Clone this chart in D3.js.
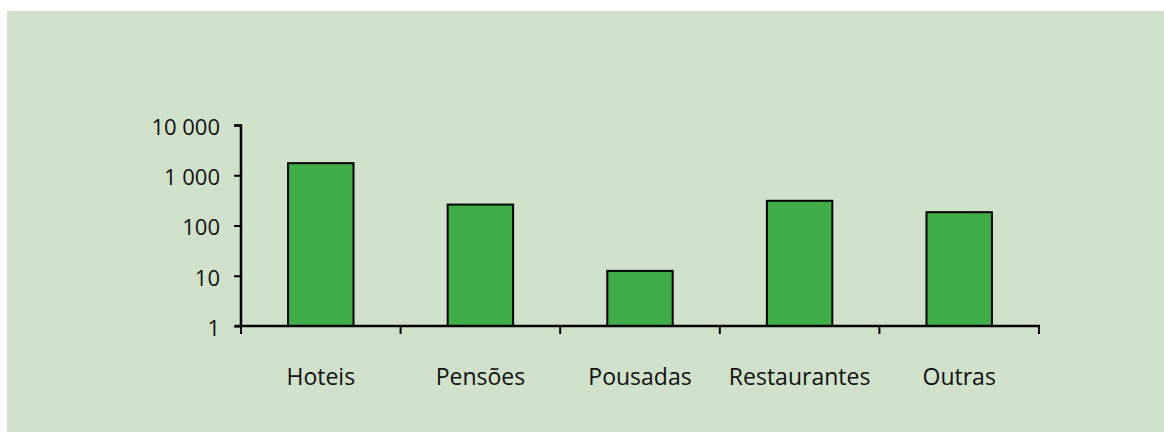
<!DOCTYPE html>
<html>
<head>
<meta charset="utf-8">
<script src="https://cdn.jsdelivr.net/npm/d3@7"></script>
<style>
  body { margin: 0; background: #ffffff; }
  text { font-family: "Open Sans", "Noto Sans", sans-serif; fill: #111; }
</style>
</head>
<body>
<div id="chart"></div>
<script>
// categories and values
var categories = ["Hoteis", "Pensões", "Pousadas", "Restaurantes", "Outras"];
var values = [1740, 261, 12.5, 310, 184];
var yTicks = [1, 10, 100, 1000, 10000];
var yTickLabels = ["1", "10", "100", "1 000", "10 000"];

var w = 1164;
var h = 432;

var svg = d3.select("#chart")
    .append("svg")
    .attr("width", w)
    .attr("height", h);

// panel background
svg.append("rect")
    .attr("x", 7)
    .attr("y", 11)
    .attr("width", w - 7)
    .attr("height", h - 11)
    .attr("fill", "#cfe2c9");

var xScale = d3.scaleBand()
    .domain(categories)
    .range([241, 1039]);

var yScale = d3.scaleLog()
    .domain([1, 10000])
    .range([326, 125]);

var barW = xScale.bandwidth() * 0.41;

// bars
svg.append("g")
    .selectAll("rect")
    .data(values)
    .join("rect")
    .attr("x", function(d, i) { return xScale(categories[i]) + xScale.bandwidth() / 2 - barW / 2; })
    .attr("y", function(d) { return yScale(d); })
    .attr("width", barW)
    .attr("height", function(d) { return yScale(1) - yScale(d); })
    .attr("fill", "#41ad49")
    .attr("stroke", "#000")
    .attr("stroke-width", 2);

// y axis
var yAxis = d3.axisLeft(yScale)
    .tickValues(yTicks)
    .tickFormat(function(d, i) { return yTickLabels[i]; })
    .tickSize(7)
    .tickPadding(14);

var gy = svg.append("g")
    .attr("transform", "translate(241,0)")
    .call(yAxis);
gy.attr("font-size", 22).attr("font-family", "'Open Sans', 'Noto Sans', sans-serif");
gy.select(".domain").attr("d", "M-7,125.5H0V326");
gy.selectAll(".tick line").attr("stroke", "#000").attr("stroke-width", 2);
gy.selectAll(".domain").attr("stroke", "#000").attr("stroke-width", 2.5).attr("fill", "none");
gy.selectAll(".tick text")
    .attr("dy", "0.42em")
    .attr("fill", "#111");

// x axis with ticks at category boundaries
var xAxis = d3.axisBottom(xScale)
    .tickSize(0)
    .tickPadding(43);

var gx = svg.append("g")
    .attr("transform", "translate(0,326)")
    .call(xAxis);
gx.attr("font-size", 23).attr("font-family", "'Open Sans', 'Noto Sans', sans-serif");
gx.select(".domain").remove();
gx.append("line")
    .attr("x1", 235)
    .attr("x2", 1040)
    .attr("y1", 0)
    .attr("y2", 0)
    .attr("stroke", "#000")
    .attr("stroke-width", 2.5);

var bounds = categories.map(function(c) { return xScale(c); }).concat([xScale.range()[1]]);
gx.selectAll(".bound")
    .data(bounds)
    .join("line")
    .attr("class", "bound")
    .attr("x1", function(d) { return d; })
    .attr("x2", function(d) { return d; })
    .attr("y1", 0)
    .attr("y2", 8)
    .attr("stroke", "#000")
    .attr("stroke-width", 2);

gx.selectAll(".tick text")
    .attr("fill", "#111");
</script>
</body>
</html>
